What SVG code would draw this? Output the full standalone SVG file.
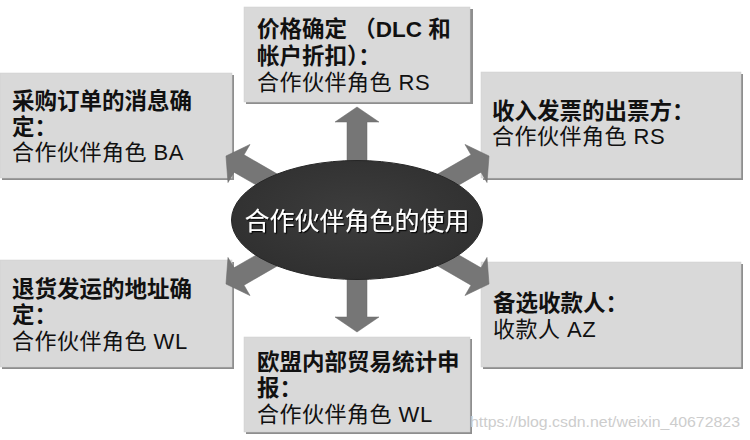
<svg xmlns="http://www.w3.org/2000/svg" width="750" height="440" viewBox="0 0 750 440">
<defs>
<style>
.box{fill:#d9d9d9;stroke:#cfcfcf;stroke-width:0.5}
.shd{fill:#8e8e8e}
.t{font-family:"Liberation Sans","Noto Sans CJK SC",sans-serif;font-size:22px;fill:#111;letter-spacing:0.5px}
.b{font-weight:bold;font-size:22.5px;letter-spacing:0}
.arr{fill:#767676;stroke:#6a6a6a;stroke-width:0.5}
.wm{font-family:"Liberation Sans","Noto Sans CJK SC",sans-serif;font-size:15px;fill:#cdcdcd}
</style>
<polygon id="arrow" points="0,0 -15,-22 -15,-10 -165,-10 -165,10 -15,10 -15,22"/>
<radialGradient id="eg" cx="0.5" cy="0.45" r="0.6">
<stop offset="0" stop-color="#3d3d3d"/>
<stop offset="1" stop-color="#2f2f2f"/>
</radialGradient>
<filter id="ts" x="-10%" y="-30%" width="120%" height="160%">
<feDropShadow dx="1.2" dy="1.2" stdDeviation="0.6" flood-color="#000" flood-opacity="0.9"/>
</filter>
</defs>
<rect width="750" height="440" fill="#ffffff"/>

<g id="box-top">
<rect class="shd" x="246" y="9" width="227" height="95"/>
<rect class="box" x="244" y="7" width="226" height="95"/>
<text class="t b" x="257" y="37">价格确定 （DLC 和</text>
<text class="t b" x="257" y="63.5">帐户折扣）：</text>
<text class="t" x="257" y="90">合作伙伴角色 RS</text>
</g>

<g id="box-left-top">
<rect class="shd" x="2" y="75" width="232" height="105"/>
<rect class="box" x="0" y="73" width="232" height="105"/>
<text class="t b" x="12" y="109">采购订单的消息确</text>
<text class="t b" x="12" y="134.5">定：</text>
<text class="t" x="12" y="160">合作伙伴角色 BA</text>
</g>

<g id="box-right-top">
<rect class="shd" x="483" y="74" width="260" height="106"/>
<rect class="box" x="481" y="72" width="260" height="106"/>
<text class="t b" x="492" y="119">收入发票的出票方：</text>
<text class="t" x="492" y="144">合作伙伴角色 RS</text>
</g>

<g id="box-left-bottom">
<rect class="shd" x="2" y="262" width="232" height="107"/>
<rect class="box" x="0" y="260" width="232" height="107"/>
<text class="t b" x="12" y="297">退货发运的地址确</text>
<text class="t b" x="12" y="323">定：</text>
<text class="t" x="12" y="349">合作伙伴角色 WL</text>
</g>

<g id="box-right-bottom">
<rect class="shd" x="483" y="264" width="260" height="105"/>
<rect class="box" x="481" y="262" width="260" height="105"/>
<text class="t b" x="493" y="311">备选收款人：</text>
<text class="t" x="493" y="337">收款人 AZ</text>
</g>

<g id="box-bottom">
<rect class="shd" x="246" y="339" width="226" height="95"/>
<rect class="box" x="244" y="337" width="226" height="95"/>
<text class="t b" x="257" y="370">欧盟内部贸易统计申</text>
<text class="t b" x="257" y="396">报：</text>
<text class="t" x="257" y="422">合作伙伴角色 WL</text>
</g>

<g id="connectors">
<use href="#arrow" class="arr" transform="translate(357,107) rotate(-90)"/>
<use href="#arrow" class="arr" transform="translate(357,332) rotate(90)"/>
<use href="#arrow" class="arr" transform="translate(226,156) rotate(-150)"/>
<use href="#arrow" class="arr" transform="translate(489,156) rotate(-30)"/>
<use href="#arrow" class="arr" transform="translate(226,284) rotate(150)"/>
<use href="#arrow" class="arr" transform="translate(489,284) rotate(30)"/>
</g>

<g id="center">
<ellipse cx="357" cy="220" rx="125.5" ry="59.5" fill="url(#eg)" stroke="#262626" stroke-width="1"/>
<text x="357" y="230" text-anchor="middle" filter="url(#ts)" style="font-family:'Noto Sans CJK SC','Liberation Sans',sans-serif;font-size:25px;fill:#ffffff">合作伙伴角色的使用</text>
</g>

<text class="wm" x="470" y="427" textLength="270" lengthAdjust="spacingAndGlyphs">https://blog.csdn.net/weixin_40672823</text>
</svg>
